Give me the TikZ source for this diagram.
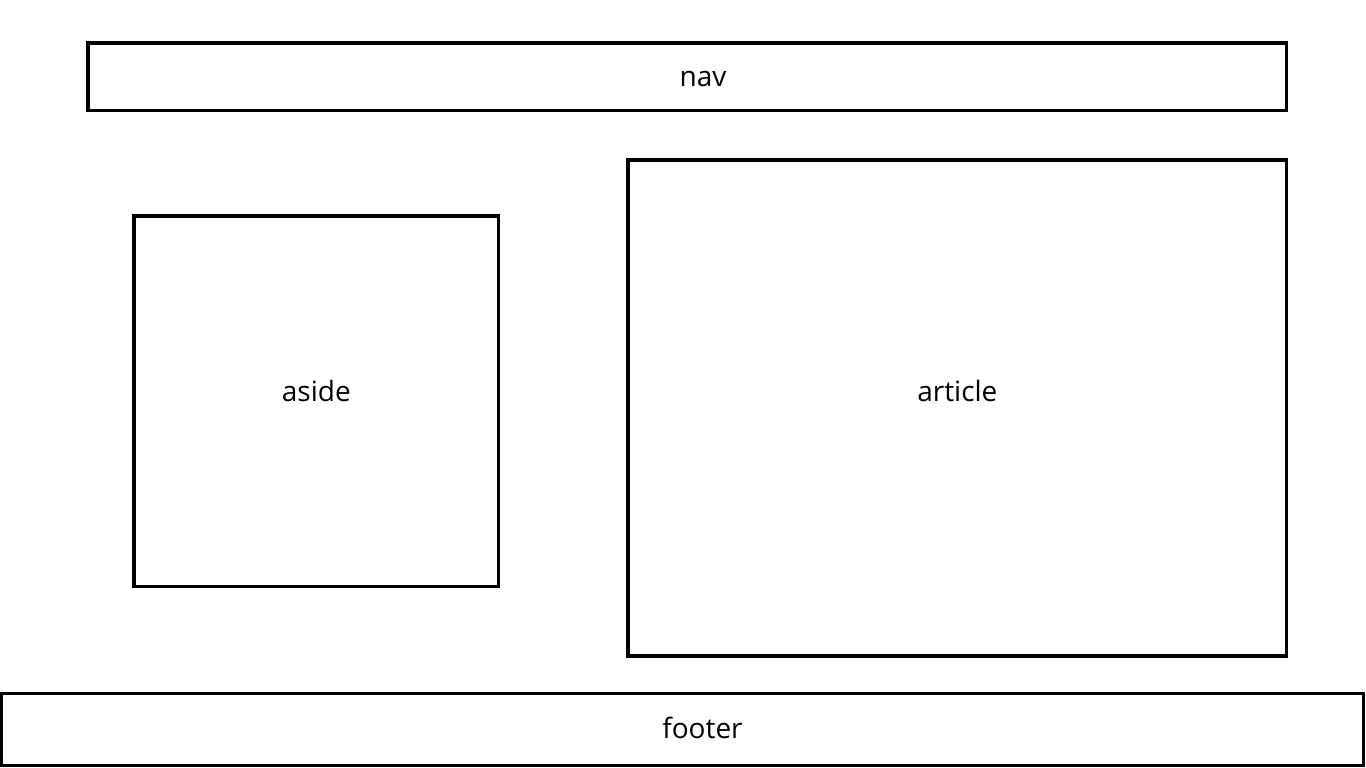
\documentclass[tikz,border=0pt]{standalone}
\usepackage{fontspec}
\setmainfont{Open Sans}
\usetikzlibrary{positioning}

\tikzset{
  block/.style={draw, line width=3.2pt, rectangle, inner sep=0pt},
  caption/.style={font=\fontsize{28}{34}\selectfont}
}

\begin{document}
\begin{tikzpicture}[x=1pt,y=-1pt]
    \useasboundingbox (0,0) rectangle (1366,768);
    \node[block, minimum width=1198.7pt, minimum height=67.5pt,
      label={[caption, xshift=15.7pt, yshift=-2.5pt]center:nav}] (nav) at (687.35,76.75) {};
    \node[block, minimum width=364.7pt, minimum height=370.7pt,
      label={[caption, yshift=10pt]center:aside}] (aside) at (316.35,401.35) {};
    \node[block, minimum width=658.7pt, minimum height=496pt,
      label={[caption, yshift=17pt]center:article}] (article) at (957.35,408) {};
    \node[block, minimum width=1362pt, minimum height=72pt,
      label={[caption, xshift=20pt, yshift=1.5pt]center:footer}] (footer) at (682.5,729.5) {};
  \end{tikzpicture}
\end{document}
